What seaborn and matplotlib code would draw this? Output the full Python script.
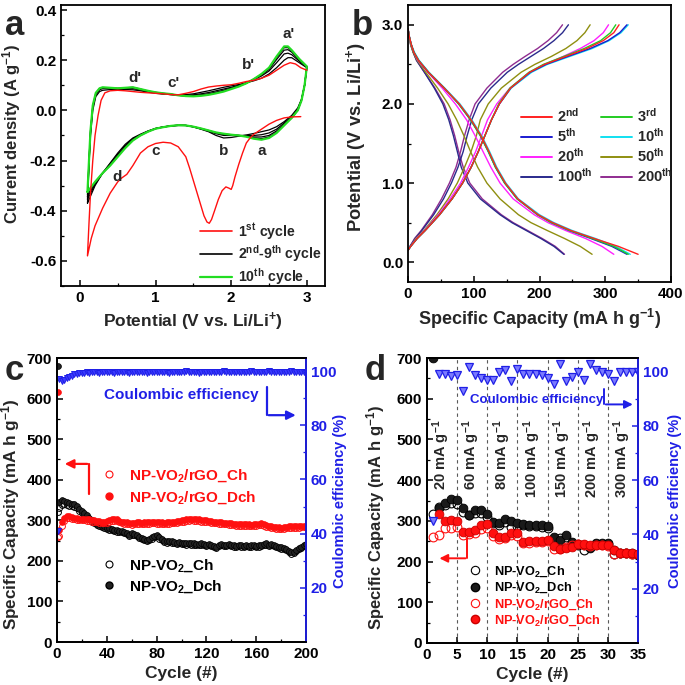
import numpy as np
import matplotlib
matplotlib.use("Agg")
import matplotlib.pyplot as plt
import seaborn as sns
from matplotlib.lines import Line2D
from matplotlib.ticker import MultipleLocator, FormatStrFormatter

# ===================== Panel a : cyclic voltammetry =====================
cv_v_ox = [0.1, 0.12, 0.14, 0.17, 0.21, 0.26, 0.3, 0.4, 0.5, 0.6, 0.7, 0.8, 0.9, 1.0, 1.1, 1.2,
           1.3, 1.4, 1.5, 1.6, 1.7, 1.8, 1.9, 2.0, 2.1, 2.2, 2.3, 2.4, 2.5, 2.6, 2.7, 2.75, 2.8, 2.9, 3.0]
cv_v_red = [3.0, 2.97, 2.93, 2.88, 2.8, 2.7, 2.6, 2.5, 2.4, 2.3, 2.2, 2.1, 2.0, 1.9, 1.8, 1.7,
            1.6, 1.5, 1.4, 1.3, 1.2, 1.1, 1.0, 0.9, 0.8, 0.7, 0.6, 0.5, 0.4, 0.3, 0.2, 0.1]

cv10_ox = [-0.325, -0.2, -0.08, 0.02, 0.07, 0.088, 0.092, 0.09, 0.088, 0.09, 0.092, 0.085, 0.078, 0.072,
           0.068, 0.065, 0.06, 0.057, 0.056, 0.058, 0.062, 0.068, 0.075, 0.085, 0.095, 0.108, 0.125,
           0.145, 0.17, 0.215, 0.255, 0.255, 0.24, 0.205, 0.175]
cv10_red = [0.175, 0.1, 0.04, 0.0, -0.03, -0.06, -0.09, -0.11, -0.117, -0.113, -0.105, -0.1, -0.097,
            -0.093, -0.088, -0.08, -0.072, -0.065, -0.06, -0.059, -0.062, -0.067, -0.073, -0.085,
            -0.1, -0.12, -0.15, -0.185, -0.22, -0.25, -0.285, -0.325]

cv2_ox = [-0.37, -0.22, -0.1, 0.0, 0.055, 0.075, 0.08, 0.083, 0.083, 0.083, 0.082, 0.078, 0.073, 0.068,
          0.065, 0.063, 0.062, 0.063, 0.066, 0.072, 0.078, 0.085, 0.092, 0.098, 0.103, 0.11, 0.118,
          0.128, 0.145, 0.17, 0.2, 0.21, 0.21, 0.19, 0.17]
cv2_red = [0.17, 0.1, 0.045, 0.01, -0.02, -0.045, -0.065, -0.078, -0.085, -0.092, -0.098, -0.103,
           -0.108, -0.11, -0.1, -0.085, -0.075, -0.066, -0.06, -0.06, -0.062, -0.066, -0.072, -0.082,
           -0.095, -0.11, -0.135, -0.17, -0.21, -0.25, -0.3, -0.37]
cv4_ox = [-0.355, -0.21, -0.09, 0.01, 0.062, 0.082, 0.087, 0.087, 0.086, 0.087, 0.087, 0.081, 0.075,
          0.07, 0.066, 0.063, 0.061, 0.06, 0.062, 0.066, 0.071, 0.078, 0.085, 0.092, 0.1, 0.11, 0.122,
          0.137, 0.157, 0.19, 0.225, 0.228, 0.222, 0.196, 0.172]
cv4_red = [0.172, 0.1, 0.043, 0.005, -0.025, -0.05, -0.075, -0.09, -0.097, -0.1, -0.1, -0.1, -0.1,
           -0.1, -0.093, -0.083, -0.074, -0.066, -0.06, -0.06, -0.062, -0.066, -0.072, -0.083, -0.097,
           -0.113, -0.14, -0.175, -0.212, -0.25, -0.295, -0.355]
cv6_ox = [-0.345, -0.205, -0.085, 0.015, 0.066, 0.085, 0.09, 0.089, 0.087, 0.089, 0.09, 0.083, 0.076,
          0.071, 0.067, 0.064, 0.06, 0.058, 0.059, 0.062, 0.066, 0.073, 0.08, 0.089, 0.098, 0.109,
          0.124, 0.141, 0.163, 0.203, 0.24, 0.242, 0.232, 0.2, 0.174]
cv6_red = [0.174, 0.1, 0.042, 0.002, -0.028, -0.055, -0.082, -0.1, -0.106, -0.106, -0.103, -0.1,
           -0.098, -0.096, -0.09, -0.081, -0.073, -0.065, -0.06, -0.059, -0.062, -0.066, -0.073,
           -0.084, -0.098, -0.116, -0.145, -0.18, -0.216, -0.25, -0.29, -0.345]
cv8_ox = [-0.335, -0.2, -0.082, 0.018, 0.068, 0.087, 0.091, 0.09, 0.088, 0.09, 0.092, 0.085, 0.077,
          0.072, 0.068, 0.065, 0.06, 0.057, 0.057, 0.06, 0.064, 0.07, 0.078, 0.087, 0.096, 0.108,
          0.125, 0.144, 0.168, 0.21, 0.25, 0.25, 0.237, 0.203, 0.175]
cv8_red = [0.175, 0.1, 0.041, 0.0, -0.03, -0.058, -0.087, -0.106, -0.113, -0.11, -0.104, -0.1, -0.097,
           -0.094, -0.089, -0.08, -0.072, -0.065, -0.06, -0.059, -0.062, -0.067, -0.073, -0.085, -0.1,
           -0.119, -0.148, -0.183, -0.219, -0.25, -0.288, -0.335]

cv1_v_red = [2.92, 2.8, 2.7, 2.6, 2.5, 2.4, 2.3, 2.25, 2.2, 2.15, 2.1, 2.05, 2.02, 2.0, 1.97, 1.93,
             1.88, 1.83, 1.78, 1.74, 1.71, 1.68, 1.64, 1.6, 1.55, 1.5, 1.45, 1.4, 1.3, 1.2, 1.1, 1.0,
             0.9, 0.8, 0.7, 0.62, 0.55, 0.5, 0.4, 0.3, 0.2, 0.15, 0.1]
cv1_i_red = [-0.025, -0.026, -0.03, -0.04, -0.055, -0.075, -0.095, -0.11, -0.13, -0.17, -0.215,
             -0.265, -0.3, -0.315, -0.31, -0.305, -0.32, -0.355, -0.4, -0.435, -0.45, -0.445, -0.42,
             -0.38, -0.33, -0.28, -0.23, -0.185, -0.145, -0.13, -0.127, -0.132, -0.145, -0.17,
             -0.22, -0.255, -0.27, -0.285, -0.33, -0.39, -0.46, -0.51, -0.58]
cv1_v_ox = [0.1, 0.12, 0.14, 0.17, 0.2, 0.24, 0.28, 0.33, 0.4, 0.5, 0.6, 0.7, 0.8, 0.9, 1.0, 1.1, 1.2,
            1.3, 1.4, 1.5, 1.6, 1.7, 1.8, 1.9, 2.0, 2.1, 2.2, 2.3, 2.4, 2.5, 2.6, 2.7, 2.78, 2.85,
            2.92, 3.0]
cv1_i_ox = [-0.58, -0.45, -0.33, -0.2, -0.1, -0.02, 0.04, 0.07, 0.078, 0.08, 0.078, 0.075, 0.072,
            0.07, 0.068, 0.066, 0.063, 0.062, 0.068, 0.075, 0.085, 0.093, 0.097, 0.1, 0.102, 0.108,
            0.115, 0.12, 0.128, 0.14, 0.16, 0.18, 0.19, 0.185, 0.17, 0.16]

cv_peak_labels = ["a'", "b'", "c'", "d'", "a", "b", "c", "d"]
cv_peak_x = [2.76, 2.23, 1.23, 0.73, 2.40, 1.90, 1.00, 0.49]
cv_peak_y = [0.305, 0.18, 0.11, 0.13, -0.163, -0.163, -0.163, -0.265]
cv_legend = ["1$^{st}$ cycle", "2$^{nd}$-9$^{th}$ cycle", "10$^{th}$ cycle"]

# ===================== Panel b : charge / discharge =====================
gcd_cycles = ["2nd", "5th", "20th", "100th", "3rd", "10th", "50th", "200th"]
gcd_labels = ["2$^{nd}$", "5$^{th}$", "20$^{th}$", "100$^{th}$",
              "3$^{rd}$", "10$^{th}$", "50$^{th}$", "200$^{th}$"]
gcd_v_dis = [2.95, 2.85, 2.75, 2.65, 2.55, 2.4, 2.2, 2.0, 1.8, 1.6, 1.4, 1.2, 1.0, 0.8, 0.6, 0.5,
             0.4, 0.3, 0.2, 0.1]
gcd_v_ch = [0.15, 0.2, 0.3, 0.4, 0.6, 0.8, 1.0, 1.2, 1.4, 1.6, 1.8, 2.0, 2.2, 2.4, 2.5, 2.6, 2.7,
            2.8, 2.9, 3.0]
dis_2nd = [0, 2, 5, 9, 16, 31, 55, 78, 96, 111, 123, 134, 148, 167, 198, 220, 248, 283, 320, 350]
dis_3rd = [0, 2, 5, 9, 16, 31, 55, 77, 95, 110, 122, 133, 147, 166, 197, 218, 246, 280, 313, 335]
dis_5th = [0, 2, 5, 9, 16, 31, 55, 77, 95, 110, 122, 133, 147, 166, 197, 218, 245, 278, 310, 333]
dis_10th = [0, 2, 5, 10, 17, 32, 56, 79, 97, 112, 124, 135, 149, 168, 200, 222, 250, 285, 316, 338]
dis_20th = [0, 2, 5, 9, 15, 30, 52, 72, 89, 102, 114, 126, 140, 160, 192, 213, 240, 270, 295, 313]
dis_50th = [0, 2, 4, 8, 14, 27, 45, 61, 74, 85, 95, 106, 120, 140, 168, 187, 212, 238, 262, 280]
dis_100th = [0, 2, 4, 8, 13, 25, 40, 53, 62, 69, 75, 81, 91, 110, 140, 158, 180, 202, 222, 237]
dis_200th = [0, 2, 4, 8, 13, 25, 41, 55, 64, 71, 77, 84, 94, 113, 142, 160, 182, 204, 224, 238]
ch_2nd = [0, 4, 14, 26, 48, 67, 83, 96, 107, 117, 127, 139, 156, 185, 208, 240, 272, 297, 313, 321]
ch_3rd = [0, 4, 14, 26, 48, 67, 83, 96, 107, 117, 127, 138, 155, 184, 206, 237, 268, 293, 308, 316]
ch_5th = [0, 4, 14, 26, 48, 67, 83, 96, 107, 117, 127, 139, 156, 186, 210, 243, 277, 304, 322, 333]
ch_10th = [0, 4, 14, 26, 48, 67, 83, 96, 107, 117, 127, 139, 157, 188, 212, 246, 280, 306, 324, 335]
ch_20th = [0, 4, 13, 25, 46, 64, 80, 92, 103, 112, 121, 135, 155, 185, 208, 236, 262, 283, 297, 305]
ch_50th = [0, 4, 12, 24, 44, 61, 75, 86, 96, 104, 110, 122, 142, 172, 193, 218, 240, 257, 269, 277]
ch_100th = [0, 3, 11, 21, 39, 54, 66, 76, 84, 90, 97, 107, 126, 151, 168, 187, 206, 222, 235, 244]
ch_200th = [0, 3, 10, 20, 37, 51, 63, 73, 80, 86, 93, 102, 120, 144, 160, 178, 197, 213, 226, 235]

# ===================== Panel c : long cycling =====================
cyc_c = [1] + list(range(2, 201, 2))
vo2_ch_c = [320,
            330, 338, 340, 338, 336, 334, 333, 330, 323, 318, 313, 308, 302, 297, 293,
            289, 287, 284, 282, 279, 277, 275, 273, 272, 270, 271, 269, 265, 261, 264,
            263, 261, 257, 253, 252, 249, 251, 255, 259, 261, 255, 251, 247, 245, 247,
            245, 243, 241, 243, 241, 242, 240, 242, 240, 240, 238, 238, 240, 238, 236,
            238, 236, 234, 232, 236, 238, 237, 236, 238, 236, 235, 234, 236, 235, 234,
            236, 234, 235, 236, 234, 235, 237, 239, 240, 237, 238, 236, 234, 232, 230,
            228, 226, 222, 218, 220, 224, 228, 232, 236, 238]
vo2_dch_c = [680,
             345, 350, 348, 345, 342, 340, 340, 335, 328, 322, 318, 312, 306, 300, 296,
             292, 290, 287, 285, 282, 280, 278, 276, 275, 273, 274, 272, 268, 264, 268,
             266, 264, 260, 256, 255, 252, 254, 258, 262, 264, 258, 254, 250, 248, 250,
             248, 246, 244, 246, 244, 245, 243, 245, 243, 243, 241, 241, 243, 241, 239,
             241, 239, 237, 235, 239, 241, 240, 239, 241, 239, 238, 237, 239, 238, 237,
             239, 237, 238, 239, 237, 238, 240, 242, 243, 240, 241, 239, 237, 235, 233,
             231, 229, 225, 221, 223, 227, 231, 235, 239, 241]
rgo_ch_c = [258,
            262, 285, 298, 305, 306, 304, 302, 301, 300, 300, 300, 299, 298, 297, 296,
            295, 294, 293, 293, 294, 296, 298, 299, 298, 295, 293, 291, 291, 290, 289,
            290, 291, 291, 290, 291, 291, 292, 293, 293, 292, 291, 291, 290, 291, 292,
            293, 293, 294, 295, 296, 297, 298, 299, 300, 299, 299, 298, 297, 297, 296,
            295, 294, 293, 293, 291, 291, 290, 290, 289, 289, 288, 287, 287, 286, 286,
            286, 286, 285, 286, 287, 288, 289, 287, 284, 283, 281, 280, 279, 279, 278,
            279, 280, 281, 281, 281, 282, 282, 283, 283, 283]
rgo_dch_c = [615,
             275, 295, 305, 310, 310, 308, 306, 305, 304, 304, 304, 303, 302, 301, 300,
             299, 298, 297, 297, 298, 300, 302, 303, 302, 299, 297, 295, 295, 294, 293,
             294, 295, 295, 294, 295, 295, 296, 297, 297, 296, 295, 295, 294, 295, 296,
             297, 297, 298, 299, 300, 301, 302, 303, 304, 303, 303, 302, 301, 301, 300,
             299, 298, 297, 297, 295, 295, 294, 294, 293, 293, 292, 291, 291, 290, 290,
             290, 290, 289, 290, 291, 292, 293, 291, 288, 287, 285, 284, 283, 283, 282,
             283, 284, 285, 285, 285, 286, 286, 287, 287, 287]
ce_c = [41,
        97.0, 96.2, 96.8, 97.4, 97.8, 98.3, 98.8, 99.0, 99.2, 99.4, 99.3, 99.6, 99.4, 99.7, 99.5,
        99.6, 99.4, 99.7, 99.5, 99.8, 99.5, 99.7, 99.4, 99.6, 99.8, 99.5, 99.7, 99.6, 99.4, 99.7,
        99.6, 99.8, 99.5, 99.7, 99.6, 99.4, 99.7, 99.8, 99.5, 99.6, 99.7, 99.5, 99.8, 99.6, 99.4,
        99.7, 99.6, 99.8, 99.5, 99.7, 99.6, 99.9, 99.5, 99.7, 99.8, 99.6, 99.4, 99.7, 99.5, 99.8,
        99.6, 99.7, 99.5, 99.8, 99.6, 99.7, 99.9, 99.6, 99.5, 99.7, 99.8, 99.6, 99.7, 99.5, 99.8,
        99.6, 99.7, 99.9, 99.6, 99.7, 99.5, 99.8, 99.6, 99.7, 99.9, 99.6, 99.8, 99.5, 99.7, 99.6,
        99.8, 99.6, 99.7, 99.9, 99.6, 99.5, 99.7, 99.8, 99.6, 99.4]

# ===================== Panel d : rate capability =====================
cyc_d = list(range(1, 36))
vo2_ch_d = [316, 335, 340, 345, 342, 322, 315, 320, 320, 310, 295, 290, 298, 285, 288, 290, 288,
            287, 285, 283, 255, 258, 260, 245, 240, 228, 235, 242, 242, 242, 218, 220, 220, 218, 216]
vo2_dch_d = [700, 332, 343, 354, 351, 331, 315, 327, 327, 316, 298, 294, 304, 299, 294, 292, 291,
             290, 289, 288, 261, 254, 265, 249, 243, 240, 233, 245, 246, 246, 228, 222, 220, 220, 218]
rgo_ch_d = [260, 265, 283, 283, 285, 265, 268, 270, 280, 283, 262, 255, 258, 265, 262, 245, 246,
            247, 248, 250, 230, 232, 235, 240, 242, 240, 238, 240, 240, 238, 218, 220, 220, 218, 218]
rgo_dch_d = [np.nan, 316, 300, 301, 300, 273, 273, 277, 289, 293, 270, 261, 261, 271, 270, 249, 250,
             250, 251, 252, 238, 231, 233, 236, 244, 244, 240, 240, 241, 240, 229, 222, 220, 220, 218]
ce_d = [45, 99.0, 99.0, 98.4, 98.7, 92.7, 101.7, 98.7, 97.6, 96.8, 97.0, 99.9, 100.5, 96.4, 100.9,
        99.2, 99.2, 99.2, 98.7, 97.6, 95.5, 102.7, 96.5, 98.0, 100.0, 97.0, 102.7, 100.5, 99.7,
        99.2, 96.4, 99.7, 99.7, 99.7, 99.7]
rate_bounds = [5, 10, 15, 20, 25, 30]
rate_values = ["20", "60", "80", "100", "150", "200", "300"]

# ===================== style =====================
sns.set_style("ticks")
plt.rcParams.update({
    "font.family": ["Liberation Sans", "DejaVu Sans"],
    "font.weight": "bold",
    "axes.labelweight": "bold",
    "mathtext.fontset": "custom",
    "mathtext.rm": "Liberation Sans:bold",
    "mathtext.it": "Liberation Sans:bold",
    "mathtext.bf": "Liberation Sans:bold",
    "mathtext.default": "rm",
    "axes.unicode_minus": False,
    "axes.edgecolor": "black",
    "axes.linewidth": 1.3,
    "xtick.color": "black", "ytick.color": "black",
    "xtick.direction": "in", "ytick.direction": "in",
    "xtick.major.size": 4, "ytick.major.size": 4,
    "xtick.minor.size": 2.2, "ytick.minor.size": 2.2,
    "xtick.major.width": 1.1, "ytick.major.width": 1.1,
    "xtick.minor.width": 0.9, "ytick.minor.width": 0.9,
    "xtick.labelsize": 11, "ytick.labelsize": 11,
    "axes.labelsize": 12.5,
    "legend.frameon": False,
})

BLUE = "#1f1fe6"
RED = "#ff1010"
GREEN = "#22dd22"
gcd_colors = {"2nd": "#ff2020", "3rd": "#22cc22", "5th": "#1a1ad0", "10th": "#10e0f0",
              "20th": "#ff20ff", "50th": "#8f8f10", "100th": "#2a2a8c", "200th": "#902c90"}

W = H = 685.0
fig = plt.figure(figsize=(6.85, 6.85), dpi=100)


def px_axes(l, t, r, b):
    return fig.add_axes([l / W, 1 - b / H, (r - l) / W, (b - t) / H])


axA = px_axes(61, 5, 325, 286)
axB = px_axes(408, 5, 671, 282)
axC = px_axes(57, 358, 306, 642)
axD = px_axes(427, 358, 638, 643)

# ---------------- panel a ----------------
for ox, red in [(cv2_ox, cv2_red), (cv4_ox, cv4_red), (cv6_ox, cv6_red), (cv8_ox, cv8_red)]:
    sns.lineplot(x=cv_v_ox + cv_v_red, y=ox + red, sort=False, estimator=None,
                 color="black", lw=0.9, ax=axA)
sns.lineplot(x=cv_v_ox + cv_v_red, y=cv10_ox + cv10_red, sort=False, estimator=None,
             color=GREEN, lw=1.6, ax=axA)
sns.lineplot(x=cv1_v_red + cv1_v_ox, y=cv1_i_red + cv1_i_ox, sort=False, estimator=None,
             color=RED, lw=1.0, ax=axA)
axA.set_xlim(-0.25, 3.24)
axA.set_ylim(-0.7, 0.42)
axA.set_xticks([0, 1, 2, 3])
axA.xaxis.set_minor_locator(MultipleLocator(0.5))
axA.set_yticks([-0.6, -0.4, -0.2, 0.0, 0.2, 0.4])
axA.yaxis.set_minor_locator(MultipleLocator(0.1))
axA.yaxis.set_major_formatter(FormatStrFormatter("%.1f"))
axA.set_xlabel("Potential (V vs. Li/Li$^{+}$)")
axA.set_ylabel("Current density (A g$^{-1}$)", fontsize=12)
axA.yaxis.set_label_coords(-0.145, 0.541)
for lab, x, y in zip(cv_peak_labels, cv_peak_x, cv_peak_y):
    axA.text(x, y, lab, fontsize=11, fontweight="bold", ha="center", va="center")
hA = [Line2D([], [], color=RED, lw=1.2), Line2D([], [], color="black", lw=1.2),
      Line2D([], [], color=GREEN, lw=1.6)]
axA.legend(hA, cv_legend, loc="lower left", bbox_to_anchor=(0.525, -0.003), fontsize=10.2,
           handlelength=2.3, handletextpad=0.4, labelspacing=0.12, borderpad=0, borderaxespad=0)

# ---------------- panel b ----------------
dis_map = {"2nd": dis_2nd, "3rd": dis_3rd, "5th": dis_5th, "10th": dis_10th,
           "20th": dis_20th, "50th": dis_50th, "100th": dis_100th, "200th": dis_200th}
ch_map = {"2nd": ch_2nd, "3rd": ch_3rd, "5th": ch_5th, "10th": ch_10th,
          "20th": ch_20th, "50th": ch_50th, "100th": ch_100th, "200th": ch_200th}
draw_order = ["200th", "100th", "50th", "20th", "10th", "5th", "3rd", "2nd"]
for cyc in draw_order:
    sns.lineplot(x=dis_map[cyc], y=gcd_v_dis, sort=False, estimator=None,
                 color=gcd_colors[cyc], lw=1.0, ax=axB)
    sns.lineplot(x=ch_map[cyc], y=gcd_v_ch, sort=False, estimator=None,
                 color=gcd_colors[cyc], lw=1.0, ax=axB)
axB.set_xlim(0, 400)
axB.set_ylim(-0.25, 3.25)
axB.set_xticks([0, 100, 200, 300, 400])
axB.xaxis.set_minor_locator(MultipleLocator(50))
axB.set_yticks([0, 1, 2, 3])
axB.yaxis.set_minor_locator(MultipleLocator(0.5))
axB.yaxis.set_major_formatter(FormatStrFormatter("%.1f"))
axB.set_xlabel("Specific Capacity (mA h g$^{-1}$)", fontsize=13)
axB.set_ylabel("Potential (V vs. Li/Li$^{+}$)", fontsize=13.2)
axB.yaxis.set_label_coords(-0.152, 0.525)
hB = [Line2D([], [], color=gcd_colors[c], lw=1.4) for c in gcd_cycles]
axB.legend(hB, gcd_labels, ncol=2, loc="upper left", bbox_to_anchor=(0.43, 0.632), fontsize=10.5,
           handlelength=2.1, handletextpad=0.35, columnspacing=0.6, labelspacing=0.15,
           borderpad=0, borderaxespad=0)

# ---------------- panel c ----------------
MS_C = 4.2
sns.lineplot(x=cyc_c, y=vo2_ch_c, sort=False, estimator=None, ax=axC, linestyle="",
             marker="o", markersize=MS_C, markerfacecolor="none", markeredgecolor="black",
             markeredgewidth=0.7)
sns.lineplot(x=cyc_c, y=vo2_dch_c, sort=False, estimator=None, ax=axC, linestyle="",
             marker="o", markersize=MS_C, markerfacecolor="#222222", markeredgecolor="black",
             markeredgewidth=0.5)
sns.lineplot(x=cyc_c, y=rgo_ch_c, sort=False, estimator=None, ax=axC, linestyle="",
             marker="o", markersize=MS_C, markerfacecolor="none", markeredgecolor=RED,
             markeredgewidth=0.7)
sns.lineplot(x=cyc_c, y=rgo_dch_c, sort=False, estimator=None, ax=axC, linestyle="",
             marker="o", markersize=MS_C, markerfacecolor=RED, markeredgecolor=RED,
             markeredgewidth=0.5)
axC.set_xlim(0, 200)
axC.set_ylim(0, 700)
axC.set_xticks(range(0, 201, 40))
axC.xaxis.set_minor_locator(MultipleLocator(20))
axC.set_yticks(range(0, 701, 100))
axC.yaxis.set_minor_locator(MultipleLocator(50))
axC.set_xlabel("Cycle (#)")
axC.set_ylabel("Specific Capacity (mA h g$^{-1}$)", fontsize=12.3)
axC.yaxis.set_label_coords(-0.14, 0.45)

axC2 = axC.twinx()
sns.lineplot(x=cyc_c, y=ce_c, sort=False, estimator=None, ax=axC2, linestyle="",
             marker="v", markersize=4.2, markerfacecolor="#3a3aff", markeredgecolor=BLUE,
             markeredgewidth=0.7)
axC2.set_ylim(0, 104.8)
axC2.set_yticks([20, 40, 60, 80, 100])
axC2.set_yticks([10, 30, 50, 70, 90], minor=True)
axC2.tick_params(axis="y", which="both", colors=BLUE, direction="in")
axC2.spines["right"].set_color(BLUE)
axC2.set_ylabel("Coulombic efficiency (%)", color=BLUE, fontsize=10.5)
axC2.yaxis.set_label_coords(1.108, 0.496)
axC2.text(100, 91, "Coulombic efficiency", color=BLUE, fontsize=11, fontweight="bold",
          ha="center", va="center")
axC2.plot([168.4, 168.4], [94.2, 83.7], color=BLUE, lw=1.6)
axC2.annotate("", xy=(194, 83.7), xytext=(167.8, 83.7),
              arrowprops=dict(arrowstyle="-|>", color=BLUE, lw=1.6, mutation_scale=13))
axC.plot([25.9, 25.9], [365, 439], color=RED, lw=1.6)
axC.annotate("", xy=(4.0, 439), xytext=(26.5, 439),
             arrowprops=dict(arrowstyle="-|>", color=RED, lw=1.6, mutation_scale=13))

hC_red = [Line2D([], [], ls="", marker="o", ms=5, mfc="none", mec=RED, mew=0.8),
          Line2D([], [], ls="", marker="o", ms=5, mfc=RED, mec=RED)]
hC_blk = [Line2D([], [], ls="", marker="o", ms=5, mfc="none", mec="black", mew=0.8),
          Line2D([], [], ls="", marker="o", ms=5, mfc="#222222", mec="black")]
legC1 = axC.legend(hC_red, ["NP-VO$_2$/rGO_Ch", "NP-VO$_2$/rGO_Dch"], loc="upper left",
                   bbox_to_anchor=(0.18, 0.615), fontsize=11, labelcolor=RED, handlelength=1,
                   handletextpad=0.8, labelspacing=0.3, borderpad=0, borderaxespad=0)
axC.add_artist(legC1)
axC.legend(hC_blk, ["NP-VO$_2$_Ch", "NP-VO$_2$_Dch"], loc="upper left",
           bbox_to_anchor=(0.18, 0.30), fontsize=11, labelcolor="black", handlelength=1,
           handletextpad=0.8, labelspacing=0.3, borderpad=0, borderaxespad=0)

# ---------------- panel d ----------------
MS_D = 6.3
for xb in rate_bounds:
    axD.axvline(xb, color="0.35", lw=0.8, ls=(0, (3, 3)), zorder=0)
sns.lineplot(x=cyc_d, y=vo2_ch_d, sort=False, estimator=None, ax=axD, linestyle="",
             marker="o", markersize=MS_D, markerfacecolor="none", markeredgecolor="black",
             markeredgewidth=0.8)
sns.lineplot(x=cyc_d, y=vo2_dch_d, sort=False, estimator=None, ax=axD, linestyle="",
             marker="o", markersize=MS_D, markerfacecolor="#1a1a1a", markeredgecolor="black",
             markeredgewidth=0.6)
sns.lineplot(x=cyc_d, y=rgo_ch_d, sort=False, estimator=None, ax=axD, linestyle="",
             marker="o", markersize=MS_D, markerfacecolor="none", markeredgecolor=RED,
             markeredgewidth=0.8)
sns.lineplot(x=cyc_d, y=rgo_dch_d, sort=False, estimator=None, ax=axD, linestyle="",
             marker="o", markersize=MS_D, markerfacecolor=RED, markeredgecolor="#cc0000",
             markeredgewidth=0.6)
axD.set_xlim(0, 35)
axD.set_ylim(0, 700)
axD.set_xticks(range(0, 36, 5))
axD.set_yticks(range(0, 701, 100))
axD.yaxis.set_minor_locator(MultipleLocator(50))
axD.set_xlabel("Cycle (#)")
axD.set_ylabel("Specific Capacity (mA h g$^{-1}$)", fontsize=12)
axD.yaxis.set_label_coords(-0.19, 0.44)
for i, r in enumerate(rate_values):
    axD.text(rate_bounds[0] * i + 2.4, 548, r + " mA g$^{-1}$", rotation=90, fontsize=10.5,
             fontweight="bold", ha="center", va="top")

axD2 = axD.twinx()
sns.lineplot(x=cyc_d, y=ce_d, sort=False, estimator=None, ax=axD2, linestyle="",
             marker="v", markersize=6, markerfacecolor="#7a7aff", markeredgecolor=BLUE,
             markeredgewidth=0.9)
axD2.set_ylim(0, 105)
axD2.set_yticks([20, 40, 60, 80, 100])
axD2.set_yticks([10, 30, 50, 70, 90], minor=True)
axD2.tick_params(axis="y", which="both", colors=BLUE, direction="in")
axD2.spines["right"].set_color(BLUE)
axD2.set_ylabel("Coulombic efficiency (%)", color=BLUE, fontsize=10.5)
axD2.yaxis.set_label_coords(1.142, 0.5)
axD2.text(18.2, 89.6, "Coulombic efficiency", color=BLUE, fontsize=9.5, fontweight="bold",
          ha="center", va="center")
axD2.plot([29.4, 29.4], [93.7, 87.9], color=BLUE, lw=1.4)
axD2.annotate("", xy=(34.6, 87.9), xytext=(29.2, 87.9),
              arrowprops=dict(arrowstyle="-|>", color=BLUE, lw=1.4, mutation_scale=12))
axD.plot([6.7, 6.7], [255, 208], color=RED, lw=1.4)
axD.annotate("", xy=(1.6, 208), xytext=(6.85, 208),
             arrowprops=dict(arrowstyle="-|>", color=RED, lw=1.4, mutation_scale=12))

hD = [Line2D([], [], ls="", marker="o", ms=6, mfc="none", mec="black", mew=0.8),
      Line2D([], [], ls="", marker="o", ms=6, mfc="#1a1a1a", mec="black"),
      Line2D([], [], ls="", marker="o", ms=6, mfc="none", mec=RED, mew=0.8),
      Line2D([], [], ls="", marker="o", ms=6, mfc=RED, mec="#cc0000")]
axD.legend(hD, ["NP-VO$_2$_Ch", "NP-VO$_2$_Dch", "NP-VO$_2$/rGO_Ch", "NP-VO$_2$/rGO_Dch"],
           loc="upper left", bbox_to_anchor=(0.195, 0.275), fontsize=9.2,
           labelcolor=["black", "black", RED, RED], handlelength=1, handletextpad=1.0,
           labelspacing=0.15, borderpad=0, borderaxespad=0)

for ax in (axA, axB, axC, axD):
    ax.tick_params(which="both", top=False, right=False)
    for s in ax.spines.values():
        s.set_visible(True)
for ax2 in (axC2, axD2):
    ax2.spines["right"].set_linewidth(1.3)

# panel letters
for letter, xpx, ypx in [("a", 5, 35), ("b", 352, 35), ("c", 5, 380), ("d", 365, 380)]:
    fig.text(xpx / W, 1 - ypx / H, letter, fontsize=25, fontweight="bold", va="baseline")

fig.savefig("out.png", dpi=100)
